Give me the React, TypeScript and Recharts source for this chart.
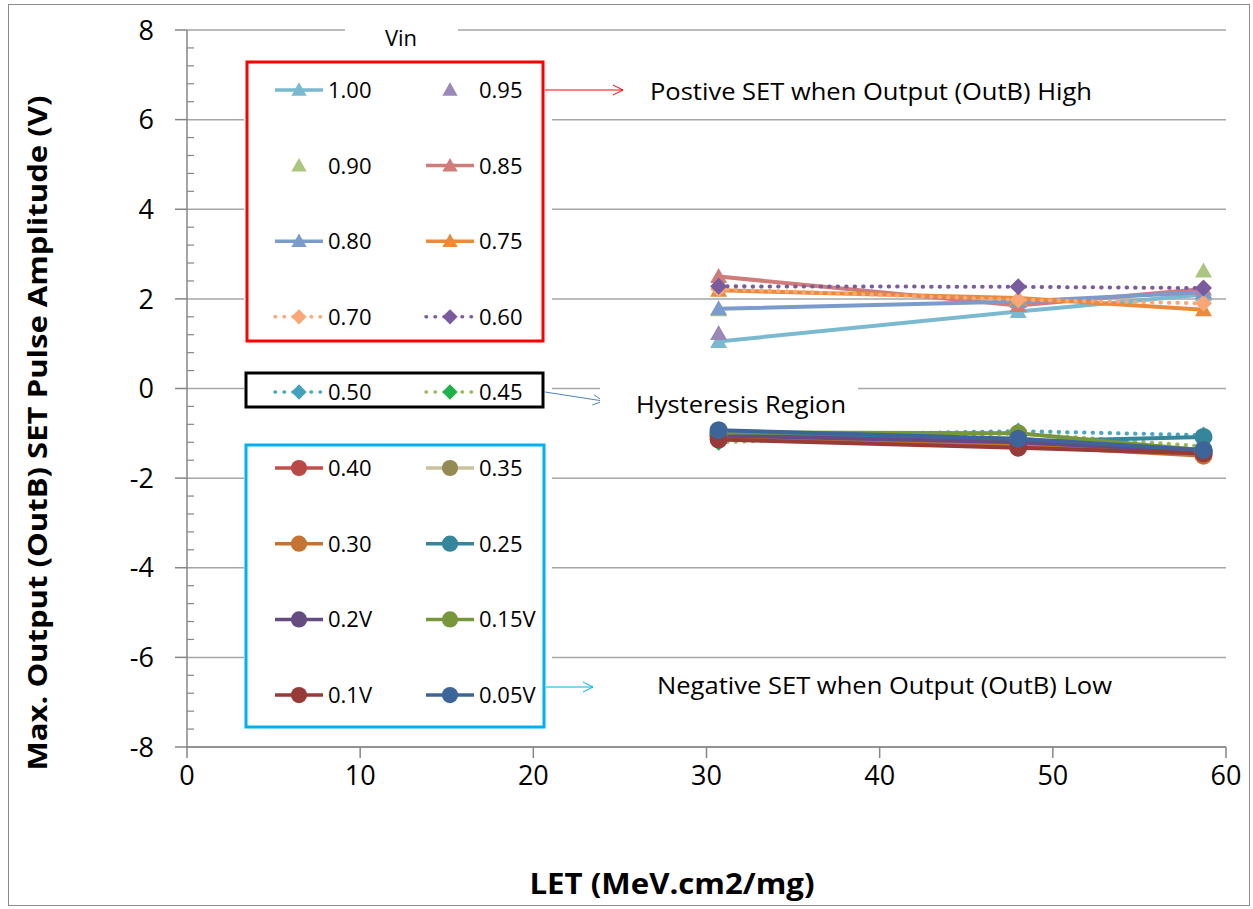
import React from 'react';
import { LineChart, Line, XAxis, YAxis, CartesianGrid } from 'recharts';

// LET values (x) shared by all series
const letValues = [30.7, 48.0, 58.7];

const xTicks = [0, 10, 20, 30, 40, 50, 60];
const yTicks = [-8, -6, -4, -2, 0, 2, 4, 6, 8];
const yMinorTicks = [
  -8, -7.6, -7.2, -6.8, -6.4, -6, -5.6, -5.2, -4.8, -4.4, -4, -3.6, -3.2, -2.8, -2.4, -2, -1.6, -1.2, -0.8, -0.4,
  0, 0.4, 0.8, 1.2, 1.6, 2, 2.4, 2.8, 3.2, 3.6, 4, 4.4, 4.8, 5.2, 5.6, 6, 6.4, 6.8, 7.2, 7.6, 8,
];

// positive SET (output high)
const vin100 = [1.05, 1.72, 2.1];
const vin095 = [1.23, 1.95, 2.15];
const vin090 = [1.76, 2.0, 2.62];
const vin085 = [2.5, 1.85, 2.22];
const vin080 = [1.78, 1.94, 2.15];
const vin075 = [2.19, 2.02, 1.76];
const vin070 = [2.22, 1.98, 1.9];
const vin060 = [2.28, 2.27, 2.24];
// hysteresis region
const vin050 = [-1.07, -0.95, -1.04];
const vin045 = [-1.2, -1.0, -1.29];
// negative SET (output low)
const vin040 = [-1.05, -1.22, -1.45];
const vin035 = [-1.02, -1.12, -1.42];
const vin030 = [-1.1, -1.28, -1.5];
const vin025 = [-0.98, -1.18, -1.08];
const vin020 = [-1.05, -1.2, -1.4];
const vin015 = [-0.98, -1.0, -1.38];
const vin010 = [-1.14, -1.32, -1.45];
const vin005 = [-0.93, -1.12, -1.37];

type Shape = 'triangle' | 'diamond' | 'circle';
interface Series {
  key: string;
  name: string;
  values: number[];
  color: string;
  marker: string;
  shape: Shape;
  dotted?: boolean;
  noLine?: boolean;
  group: 'high' | 'hyst' | 'low';
}

const series: Series[] = [
  { key: 'v100', name: '1.00', values: vin100, color: '#7AB9CF', marker: '#7AB9CF', shape: 'triangle', group: 'high' },
  { key: 'v095', name: '0.95', values: vin095, color: '#9A88B9', marker: '#9A88B9', shape: 'triangle', noLine: true, group: 'high' },
  { key: 'v090', name: '0.90', values: vin090, color: '#AAC57E', marker: '#AAC57E', shape: 'triangle', noLine: true, group: 'high' },
  { key: 'v085', name: '0.85', values: vin085, color: '#CF7C7B', marker: '#CF7C7B', shape: 'triangle', group: 'high' },
  { key: 'v080', name: '0.80', values: vin080, color: '#7B9BCC', marker: '#7B9BCC', shape: 'triangle', group: 'high' },
  { key: 'v075', name: '0.75', values: vin075, color: '#EC8A3B', marker: '#EC8A3B', shape: 'triangle', group: 'high' },
  { key: 'v070', name: '0.70', values: vin070, color: '#F9A776', marker: '#F9A776', shape: 'diamond', dotted: true, group: 'high' },
  { key: 'v060', name: '0.60', values: vin060, color: '#7A5C9E', marker: '#7A5C9E', shape: 'diamond', dotted: true, group: 'high' },
  { key: 'v050', name: '0.50', values: vin050, color: '#4AA6C2', marker: '#45A2BE', shape: 'diamond', dotted: true, group: 'hyst' },
  { key: 'v045', name: '0.45', values: vin045, color: '#9BBB59', marker: '#1DB24C', shape: 'diamond', dotted: true, group: 'hyst' },
  { key: 'v040', name: '0.40', values: vin040, color: '#C0504D', marker: '#B94947', shape: 'circle', group: 'low' },
  { key: 'v035', name: '0.35', values: vin035, color: '#C9C29E', marker: '#948A54', shape: 'circle', group: 'low' },
  { key: 'v030', name: '0.30', values: vin030, color: '#C47333', marker: '#C47333', shape: 'circle', group: 'low' },
  { key: 'v025', name: '0.25', values: vin025, color: '#35869B', marker: '#35869B', shape: 'circle', group: 'low' },
  { key: 'v020', name: '0.2V', values: vin020, color: '#654C80', marker: '#654C80', shape: 'circle', group: 'low' },
  { key: 'v015', name: '0.15V', values: vin015, color: '#78963C', marker: '#78963C', shape: 'circle', group: 'low' },
  { key: 'v010', name: '0.1V', values: vin010, color: '#973A38', marker: '#973A38', shape: 'circle', group: 'low' },
  { key: 'v005', name: '0.05V', values: vin005, color: '#3E6599', marker: '#3E6599', shape: 'circle', group: 'low' },
];

const data = letValues.map((x, i) => {
  const row: Record<string, number> = { let: x };
  series.forEach(s => { row[s.key] = s.values[i]; });
  return row;
});

const FONT = '"Open Sans", "Liberation Sans", sans-serif';
const AXIS = '#868686';

function MarkerShape({ shape, cx, cy, fill, k = 1 }: { shape: Shape; cx: number; cy: number; fill: string; k?: number }) {
  if (shape === 'triangle') {
    const hw = 8.5 * k;
    return <polygon points={`${cx},${cy - 8.5 * k} ${cx - hw},${cy + 6.5 * k} ${cx + hw},${cy + 6.5 * k}`} fill={fill} />;
  }
  if (shape === 'diamond') {
    const h = 8.5 * k;
    return <polygon points={`${cx},${cy - h} ${cx + h},${cy} ${cx},${cy + h} ${cx - h},${cy}`} fill={fill} />;
  }
  return <circle cx={cx} cy={cy} r={9 * k} fill={fill} />;
}

const makeDot = (s: Series) => (props: any) => {
  const { cx, cy, index } = props;
  if (cx == null || cy == null) return <g key={`${s.key}-${index}`} />;
  return (
    <g key={`${s.key}-${index}`}>
      <MarkerShape shape={s.shape} cx={cx} cy={cy} fill={s.marker} />
    </g>
  );
};

const YTick = (props: any) => {
  const { x, y, payload } = props;
  const v = payload.value as number;
  const major = Math.abs(v / 2 - Math.round(v / 2)) < 1e-6;
  if (major) {
    return (
      <g>
        <line x1={x - 12} x2={x} y1={y} y2={y} stroke={AXIS} strokeWidth={1.5} />
        <text x={x - 33} y={y} dy="0.36em" textAnchor="end" fontFamily={FONT} fontSize={27} fill="#000">
          {v}
        </text>
      </g>
    );
  }
  return <line x1={x} x2={x + 7} y1={y} y2={y} stroke={AXIS} strokeWidth={1.2} />;
};

function legendPos(s: Series, idx: number) {
  const col = idx % 2;
  const row = Math.floor(idx / 2);
  const x = col === 0 ? 299 : 450;
  let y = 392;
  if (s.group === 'high') y = 90 + row * 75.6;
  if (s.group === 'low') y = 468 + row * 75.7;
  return { x, y };
}

function Overlay() {
  const groups: Series[][] = [
    series.filter(s => s.group === 'high'),
    series.filter(s => s.group === 'hyst'),
    series.filter(s => s.group === 'low'),
  ];
  return (
    <svg width={1253} height={909} style={{ position: 'absolute', left: 0, top: 0, pointerEvents: 'none' }}>
      {/* legend background */}
      <rect x={244} y={57} width={308} height={289} fill="#fff" />
      <rect x={244} y={369} width={308} height={42} fill="#fff" />
      <rect x={244} y={441} width={308} height={290} fill="#fff" />
      <rect x={345} y={18} width={113} height={36} fill="#fff" />
      <text x={401} y={46} textAnchor="middle" fontFamily={FONT} fontSize={22} fill="#000">Vin</text>

      {groups.map(g =>
        g.map((s, i) => {
          const { x, y } = legendPos(s, i);
          return (
            <g key={s.key}>
              {!s.noLine && (
                <line
                  x1={x - 24}
                  x2={x + 24}
                  y1={y}
                  y2={y}
                  stroke={s.color}
                  strokeWidth={3.5}
                  strokeDasharray={s.dotted ? '0.5 8.5' : undefined}
                  strokeLinecap={s.dotted ? 'round' : 'butt'}
                />
              )}
              <MarkerShape shape={s.shape} cx={x} cy={y} fill={s.marker} k={s.shape === 'circle' ? 0.9 : 0.9} />
              <text x={x + 29} y={y + 8} fontFamily={FONT} fontSize={22} fill="#000">{s.name}</text>
            </g>
          );
        })
      )}

      <rect x={247} y={62} width={296} height={279} fill="none" stroke="#FF0000" strokeWidth={3} />
      <rect x={246} y={373} width={297} height={34} fill="none" stroke="#000" strokeWidth={3} />
      <rect x={246} y={445} width={298} height={282} fill="none" stroke="#00B0F0" strokeWidth={3} />

      {/* annotation arrows */}
      <line x1={545} y1={90} x2={623} y2={90} stroke="#FF0000" strokeWidth={1} />
      <polyline points="613,85 623,90 613,95" fill="none" stroke="#FF0000" strokeWidth={1} />
      <line x1={545} y1={392} x2={603} y2={401} stroke="#4F81BD" strokeWidth={1} />
      <polyline points="592.4,405 603,401 594,394.8" fill="none" stroke="#4F81BD" strokeWidth={1} />
      <line x1={546} y1={687} x2={593} y2={687} stroke="#00B0F0" strokeWidth={1} />
      <polyline points="583,682 593,687 583,692" fill="none" stroke="#00B0F0" strokeWidth={1} />

      <text x={650} y={100} fontFamily={FONT} fontSize={24} fill="#000" textLength={442} lengthAdjust="spacingAndGlyphs">
        Postive SET when Output (OutB) High
      </text>
      <rect x={600} y={380} width={258} height={37} fill="#fff" />
      <text x={636} y={413} fontFamily={FONT} fontSize={24} fill="#000" textLength={210} lengthAdjust="spacingAndGlyphs">
        Hysteresis Region
      </text>
      <text x={657} y={694} fontFamily={FONT} fontSize={24} fill="#000" textLength={455} lengthAdjust="spacingAndGlyphs">
        Negative SET when Output (OutB) Low
      </text>

      {/* axis titles */}
      <text
        transform="translate(38,433) rotate(-90)"
        dy="0.35em"
        textAnchor="middle"
        fontFamily={FONT}
        fontWeight="bold"
        fontSize={27}
        fill="#000"
        textLength={675}
        lengthAdjust="spacingAndGlyphs"
      >
        Max. Output (OutB) SET Pulse Amplitude (V)
      </text>
      <text
        x={672}
        y={894}
        textAnchor="middle"
        fontFamily={FONT}
        fontWeight="bold"
        fontSize={28}
        fill="#000"
        textLength={285}
        lengthAdjust="spacingAndGlyphs"
      >
        LET (MeV.cm2/mg)
      </text>
    </svg>
  );
}

export default function App() {
  return (
    <div style={{ position: 'absolute', left: 0, top: 0, width: 1253, height: 909, background: '#fff' }}>
      <div style={{ position: 'absolute', left: 8, top: 4, width: 1240, height: 900, border: '1px solid #8c8c8c' }} />
      <div style={{ position: 'absolute', left: 0, top: 0 }}>
        <LineChart width={1253} height={909} data={data} margin={{ top: 30, right: 27, bottom: 122, left: 127 }}>
          <CartesianGrid horizontal vertical={false} horizontalValues={yTicks} stroke="#A6A6A6" strokeWidth={1.5} />
          <XAxis
            type="number"
            dataKey="let"
            domain={[0, 60]}
            ticks={xTicks}
            interval={0}
            height={40}
            tickSize={11}
            tickMargin={8}
            axisLine={{ stroke: AXIS, strokeWidth: 1.5 }}
            tickLine={{ stroke: AXIS, strokeWidth: 1.5 }}
            tick={{ fill: '#000', fontSize: 27, fontFamily: FONT }}
          />
          <YAxis
            type="number"
            domain={[-8, 8]}
            ticks={yMinorTicks}
            interval={0}
            width={60}
            tickSize={0}
            tickMargin={0}
            tickLine={false}
            axisLine={{ stroke: AXIS, strokeWidth: 1.5 }}
            tick={YTick}
            allowDataOverflow
          />
          {series.map(s => (
            <Line
              key={s.key}
              type="linear"
              dataKey={s.key}
              name={s.name}
              stroke={s.noLine ? 'none' : s.color}
              strokeWidth={s.noLine ? 0 : 4}
              strokeDasharray={s.dotted ? '0.5 8' : undefined}
              strokeLinecap={s.dotted ? 'round' : 'butt'}
              dot={makeDot(s)}
              activeDot={false}
              isAnimationActive={false}
            />
          ))}
        </LineChart>
      </div>
      <Overlay />
    </div>
  );
}
